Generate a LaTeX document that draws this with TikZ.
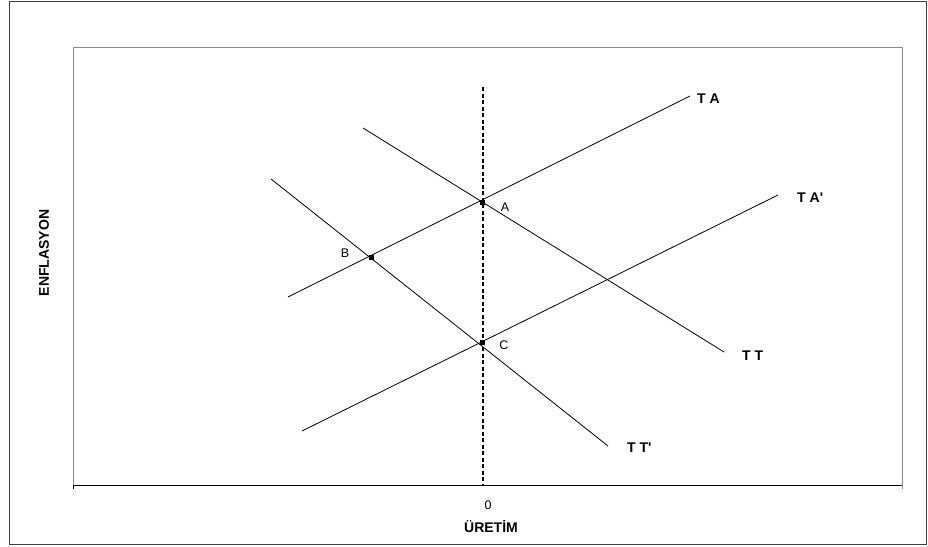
\documentclass[tikz,border=0pt]{standalone}
\usepackage{fontspec}
\setmainfont{Liberation Sans}[Ligatures=TeXOff]
\begin{document}
\begin{tikzpicture}[x=1pt,y=-1pt,
  curve/.style={line width=0.8pt,black},
  pt/.style={fill=black,inner sep=0pt,minimum size=5pt,rectangle},
  lbl/.style={font=\fontsize{14}{16}\selectfont\bfseries,inner sep=0pt,anchor=west},
  ptlbl/.style={font=\fontsize{12.5}{14}\selectfont,inner sep=0pt},
  axlbl/.style={font=\fontsize{14}{16}\selectfont\bfseries,inner sep=0pt},
  frame/.style={draw=black!75,line width=1pt}]
\useasboundingbox (0,0) rectangle (928,546);
\fill[white] (0,0) rectangle (928,546);
% outer frame
\draw[frame] (9.5,1.5) rectangle (926.5,544.5);
% plot area
\draw[draw=black!45,line width=0.8pt] (73,485) -- (73,47) -- (902,47) -- (902,489);
\draw[black,line width=1pt] (73,485) -- (902,485);
\draw[black,line width=0.8pt] (73,485) -- (73,489);
% axis labels
\node[font=\fontsize{12.5}{14}\selectfont,inner sep=0pt] (zero) at (488,505) {0};
\node[axlbl] (xlab) at (491,527) {ÜRETİM};
\node[axlbl,rotate=90] (ylab) at (44,253) {ENFLASYON};
% dashed vertical
\coordinate (vt) at (483,87);
\coordinate (vb) at (483,485);
\draw[black,line width=1.6pt,dash pattern=on 4pt off 2.5pt] (vt) -- (vb);
% curve end points
\coordinate (ta1) at (288,297);
\coordinate (ta2) at (690,96);
\coordinate (tap1) at (302,431);
\coordinate (tap2) at (778,195);
\coordinate (tt1) at (363,128);
\coordinate (tt2) at (724,352);
\coordinate (ttp1) at (271,179);
\coordinate (ttp2) at (608,446);
\draw[curve] (ta1) -- (ta2);
\draw[curve] (tap1) -- (tap2);
\draw[curve] (tt1) -- (tt2);
\draw[curve] (ttp1) -- (ttp2);
% points
\node[pt] (A) at (482,202) {};
\node[pt] (B) at (371,257) {};
\node[pt] (C) at (482,342) {};
\node[ptlbl] (Alab) at (505,207) {A};
\node[ptlbl] (Blab) at (345,253) {B};
\node[ptlbl] (Clab) at (504,345) {C};
% curve labels
\node[lbl] (TA) at (697,99) {T A};
\node[lbl] (TAp) at (797,197.5) {T A'};
\node[lbl] (TT) at (742,356) {T T};
\node[lbl] (TTp) at (627,448) {T T'};
\end{tikzpicture}
\end{document}
